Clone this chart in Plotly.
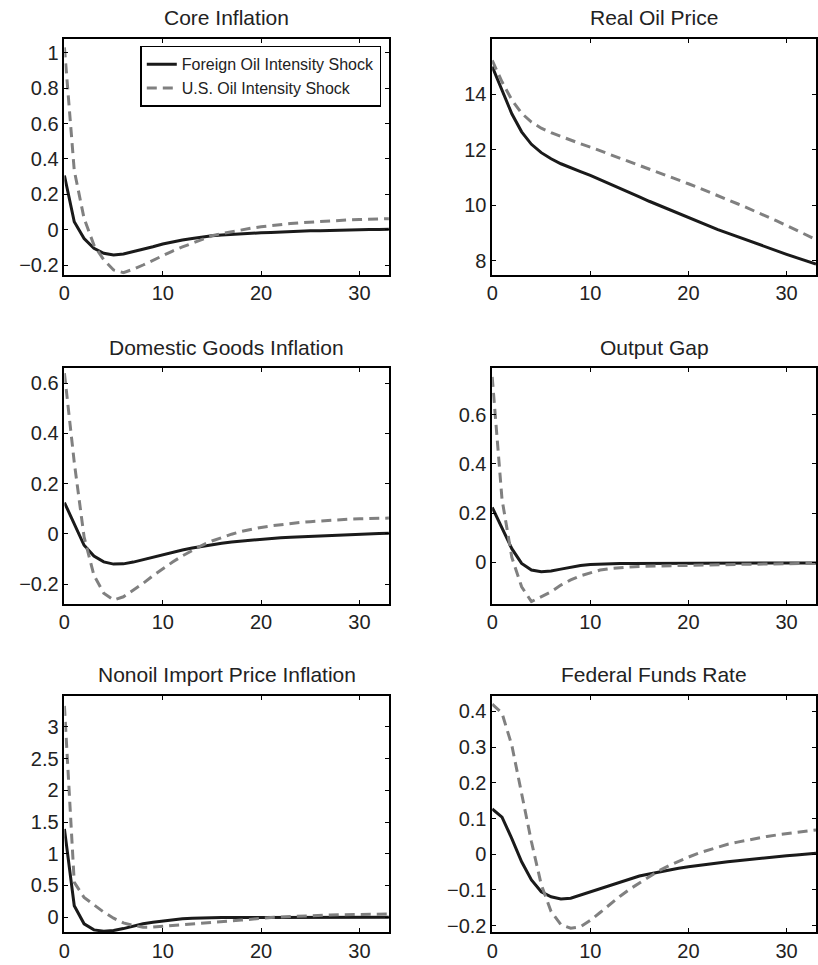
import plotly.graph_objects as go

t = list(range(34))

titles = ["Core Inflation", "Real Oil Price", "Domestic Goods Inflation",
          "Output Gap", "Nonoil Import Price Inflation", "Federal Funds Rate"]

core_foreign = [0.307, 0.045, -0.049, -0.105, -0.133, -0.142, -0.137, -0.124, -0.109, -0.096,
                -0.08, -0.068, -0.058, -0.049, -0.04, -0.034, -0.03, -0.026, -0.023, -0.02,
                -0.017, -0.015, -0.012, -0.01, -0.008, -0.006, -0.005, -0.003, -0.002, -0.001,
                0.0, 0.001, 0.002, 0.003]
core_us = [1.03, 0.335, 0.064, -0.086, -0.17, -0.227, -0.242, -0.223, -0.199, -0.172,
           -0.143, -0.12, -0.097, -0.075, -0.054, -0.034, -0.021, -0.01, 0.0, 0.009,
           0.017, 0.024, 0.03, 0.035, 0.04, 0.044, 0.048, 0.051, 0.054, 0.056,
           0.058, 0.06, 0.062, 0.063]

oil_foreign = [15.0, 14.15, 13.3, 12.65, 12.2, 11.9, 11.68, 11.5, 11.35, 11.22,
               11.08, 10.93, 10.78, 10.62, 10.47, 10.31, 10.15, 10.0, 9.85, 9.7,
               9.55, 9.41, 9.27, 9.13, 9.0, 8.87, 8.74, 8.61, 8.48, 8.36,
               8.24, 8.12, 8.0, 7.89]
oil_us = [15.22, 14.45, 13.8, 13.32, 13.0, 12.78, 12.62, 12.48, 12.35, 12.22,
          12.1, 11.97, 11.84, 11.71, 11.58, 11.45, 11.32, 11.19, 11.05, 10.92,
          10.78, 10.64, 10.5, 10.36, 10.21, 10.06, 9.91, 9.76, 9.6, 9.44,
          9.28, 9.11, 8.94, 8.77]

dom_foreign = [0.125, 0.04, -0.045, -0.088, -0.111, -0.12, -0.119, -0.112, -0.102, -0.092,
               -0.082, -0.073, -0.064, -0.056, -0.049, -0.042, -0.037, -0.032, -0.028, -0.024,
               -0.021, -0.018, -0.015, -0.013, -0.011, -0.009, -0.007, -0.005, -0.003, -0.002,
               0.0, 0.001, 0.002, 0.003]
dom_us = [0.64, 0.285, -0.012, -0.164, -0.236, -0.263, -0.25, -0.223, -0.197, -0.166,
          -0.138, -0.112, -0.087, -0.065, -0.045, -0.028, -0.013, -0.001, 0.01, 0.019,
          0.026, 0.032, 0.037, 0.042, 0.046, 0.049, 0.052, 0.055, 0.057, 0.059,
          0.06, 0.061, 0.062, 0.063]

gap_foreign = [0.223, 0.136, 0.055, -0.005, -0.032, -0.039, -0.036, -0.028, -0.02, -0.013,
               -0.009, -0.007, -0.006, -0.005, -0.005, -0.005, -0.005, -0.005, -0.005, -0.004,
               -0.004, -0.004, -0.004, -0.004, -0.004, -0.004, -0.004, -0.003, -0.003, -0.003,
               -0.003, -0.003, -0.003, -0.003]
gap_us = [0.753, 0.256, 0.02, -0.1, -0.16, -0.14, -0.12, -0.093, -0.072, -0.055,
          -0.042, -0.032, -0.026, -0.021, -0.019, -0.017, -0.016, -0.015, -0.014, -0.013,
          -0.013, -0.012, -0.011, -0.01, -0.01, -0.009, -0.008, -0.008, -0.007, -0.006,
          -0.006, -0.005, -0.005, -0.004]

nonoil_foreign = [1.39, 0.18, -0.105, -0.2, -0.22, -0.21, -0.18, -0.14, -0.105, -0.08,
                  -0.058, -0.042, -0.026, -0.016, -0.01, -0.007, -0.005, -0.004, -0.003, -0.002,
                  -0.001, 0.0, 0.0, 0.0, 0.0, 0.0, 0.0, 0.0, 0.0, 0.0,
                  0.0, 0.0, 0.0, 0.0]
nonoil_us = [3.33, 0.55, 0.31, 0.19, 0.08, -0.016, -0.09, -0.13, -0.157, -0.157,
             -0.14, -0.13, -0.12, -0.11, -0.1, -0.088, -0.075, -0.06, -0.045, -0.03,
             -0.017, -0.006, 0.003, 0.011, 0.018, 0.024, 0.029, 0.034, 0.038, 0.041,
             0.044, 0.047, 0.049, 0.051]

ffr_foreign = [0.127, 0.104, 0.044, -0.021, -0.072, -0.105, -0.119, -0.125, -0.123, -0.114,
               -0.105, -0.095, -0.086, -0.077, -0.068, -0.061, -0.055, -0.049, -0.044, -0.039,
               -0.035, -0.031, -0.027, -0.024, -0.021, -0.018, -0.015, -0.012, -0.009, -0.007,
               -0.004, -0.002, 0.001, 0.003]
ffr_us = [0.42, 0.395, 0.305, 0.172, 0.035, -0.085, -0.16, -0.197, -0.207, -0.203,
          -0.185, -0.163, -0.14, -0.118, -0.098, -0.08, -0.062, -0.046, -0.032, -0.019,
          -0.008, 0.003, 0.012, 0.02, 0.028, 0.034, 0.04, 0.045, 0.05, 0.054,
          0.058, 0.062, 0.065, 0.068]

foreign_series = [core_foreign, oil_foreign, dom_foreign, gap_foreign, nonoil_foreign, ffr_foreign]
us_series = [core_us, oil_us, dom_us, gap_us, nonoil_us, ffr_us]

y_ranges = [[-0.253, 1.079], [7.51, 16.0], [-0.277, 0.66], [-0.168, 0.789], [-0.236, 3.48], [-0.218, 0.442]]
y_ticks = [[-0.2, 0, 0.2, 0.4, 0.6, 0.8, 1], [8, 10, 12, 14], [-0.2, 0, 0.2, 0.4, 0.6],
           [0, 0.2, 0.4, 0.6], [0, 0.5, 1, 1.5, 2, 2.5, 3], [-0.2, -0.1, 0, 0.1, 0.2, 0.3, 0.4]]
x_ticks = [0, 10, 20, 30]
legend_names = ["Foreign Oil Intensity Shock", "U.S. Oil Intensity Shock"]

W, H = 818, 965
col_px = [(59, 386.7), (491, 818)]
row_px = [(39, 276), (370, 606.7), (700, 937)]
title_y_px = [18, 349, 678]

FONT = "Liberation Sans, Arial, Helvetica, sans-serif"

fig = go.Figure()
layout = dict(
    width=W, height=H, margin=dict(l=0, r=0, t=0, b=0),
    paper_bgcolor="white", plot_bgcolor="white",
    font=dict(family=FONT, color="#222222", size=20),
    showlegend=True,
)
annotations = []
for i in range(6):
    r, c = divmod(i, 2)
    n = i + 1
    xa = "x" if n == 1 else f"x{n}"
    ya = "y" if n == 1 else f"y{n}"
    fig.add_trace(go.Scatter(x=t, y=foreign_series[i], mode="lines", xaxis=xa, yaxis=ya,
                             name=legend_names[0], showlegend=(i == 0),
                             line=dict(color="#1a1a1a", width=3)))
    fig.add_trace(go.Scatter(x=t, y=us_series[i], mode="lines", xaxis=xa, yaxis=ya,
                             name=legend_names[1], showlegend=(i == 0),
                             line=dict(color="#808080", width=3, dash="10px,6px")))
    x0, x1 = col_px[c]
    y0, y1 = row_px[r]
    common = dict(showgrid=False, zeroline=False, showline=True, linecolor="black",
                  linewidth=1.5, mirror="allticks", ticks="inside", ticklen=4,
                  tickcolor="black", tickwidth=1, tickfont=dict(size=20, family=FONT, color="#222222"))
    layout["xaxis" if n == 1 else f"xaxis{n}"] = dict(
        domain=[x0 / W, x1 / W], range=[0, 33], tickvals=x_ticks,
        anchor=ya, **common)
    layout["yaxis" if n == 1 else f"yaxis{n}"] = dict(
        domain=[1 - y1 / H, 1 - y0 / H], range=y_ranges[i], tickvals=y_ticks[i],
        anchor=xa, **common)
    annotations.append(dict(text=titles[i], x=(x0 + x1) / 2 / W, y=1 - title_y_px[r] / H,
                            xref="paper", yref="paper", xanchor="center", yanchor="middle",
                            showarrow=False, font=dict(size=21, family=FONT, color="#222222")))

layout["annotations"] = annotations
layout["legend"] = dict(x=379 / W, y=1 - 46 / H, xanchor="right", yanchor="top",
                        bgcolor="white", bordercolor="black", borderwidth=1.5,
                        font=dict(size=16, family=FONT, color="#222222"),
                        tracegroupgap=0)
fig.update_layout(**layout)
fig.write_html("out.html")
